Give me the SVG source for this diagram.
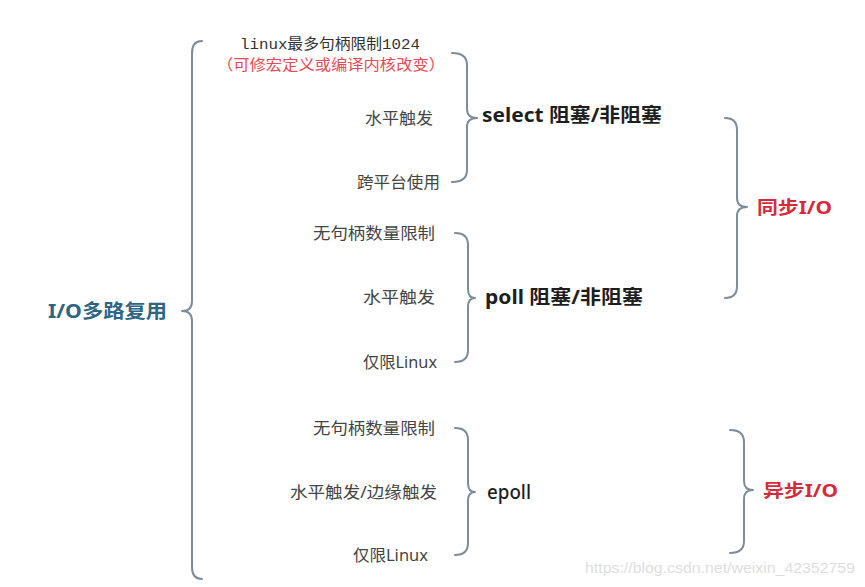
<svg xmlns="http://www.w3.org/2000/svg" width="865" height="587" viewBox="0 0 865 587">
<style>
.brace{fill:none;stroke:#7d8c99;stroke-width:2;stroke-linecap:round;stroke-linejoin:round}
text{font-family:"Noto Sans","Noto Sans CJK SC",sans-serif}
.leaf{fill:#444;font-size:16px;text-anchor:end}
.mono{font-family:"Liberation Mono","Noto Sans CJK SC",monospace;fill:#333;font-size:15px}
.note{fill:#e84a55;font-size:15px}
.mid{fill:#1e1e1e;font-size:19px;font-weight:bold}
.root{fill:#2e6584;font-size:19px;font-weight:bold}
.res{fill:#d62a3c;font-size:18px;font-weight:bold}
.wm{fill:#dedede;font-size:15px;font-family:"Liberation Sans",sans-serif}
</style>
<rect width="865" height="587" fill="#ffffff"/>
<g id="connectors">
<path class="brace" d="M202,41 Q192,41 192,53 L192,301 Q192,311 182,311 Q192,311 192,321 L192,567 Q192,579 202,579"/>
<path class="brace" d="M452,53 Q467,53 467,65 L467,109 Q467,118 477,118 Q467,118 467,127 L467,170 Q467,182 452,182"/>
<path class="brace" d="M455,233 Q468,233 468,245 L468,289 Q468,298 475,298 Q468,298 468,307 L468,350 Q468,362 455,362"/>
<path class="brace" d="M455,428 Q468,428 468,440 L468,483 Q468,492 475,492 Q468,492 468,501 L468,543 Q468,555 455,555"/>
<path class="brace" d="M725,118 Q737,118 737,130 L737,198 Q737,207 747,207 Q737,207 737,216 L737,286 Q737,298 725,298"/>
<path class="brace" d="M730,430 Q744,430 744,442 L744,481 Q744,490 753,490 Q744,490 744,499 L744,541 Q744,553 730,553"/>
</g>
<g id="root"><text class="root" x="48" y="318" textLength="119" lengthAdjust="spacingAndGlyphs">I/O多路复用</text></g>
<g id="select-notes">
<text class="mono" x="240" y="49" textLength="180" lengthAdjust="spacingAndGlyphs">linux最多句柄限制1024</text>
<text class="note" x="217" y="70" textLength="228" lengthAdjust="spacingAndGlyphs">（可修宏定义或编译内核改变）</text>
<text class="leaf" x="433" y="124" textLength="68" lengthAdjust="spacingAndGlyphs">水平触发</text>
<text class="leaf" x="440" y="188" textLength="83" lengthAdjust="spacingAndGlyphs">跨平台使用</text>
</g>
<g id="select"><text class="mid" x="482" y="122" textLength="180" lengthAdjust="spacingAndGlyphs">select 阻塞/非阻塞</text></g>
<g id="poll-notes">
<text class="leaf" x="435" y="239" textLength="122" lengthAdjust="spacingAndGlyphs">无句柄数量限制</text>
<text class="leaf" x="435" y="303" textLength="72" lengthAdjust="spacingAndGlyphs">水平触发</text>
<text class="leaf" x="437" y="368" textLength="74" lengthAdjust="spacingAndGlyphs">仅限Linux</text>
</g>
<g id="poll"><text class="mid" x="485" y="304" textLength="158" lengthAdjust="spacingAndGlyphs">poll 阻塞/非阻塞</text></g>
<g id="epoll-notes">
<text class="leaf" x="435" y="434" textLength="122" lengthAdjust="spacingAndGlyphs">无句柄数量限制</text>
<text class="leaf" x="437" y="498" textLength="147" lengthAdjust="spacingAndGlyphs">水平触发/边缘触发</text>
<text class="leaf" x="428" y="561" textLength="75" lengthAdjust="spacingAndGlyphs">仅限Linux</text>
</g>
<g id="epoll"><text x="487" y="499" style="fill:#1e1e1e;font-size:19px;font-weight:500" textLength="44" lengthAdjust="spacingAndGlyphs">epoll</text></g>
<g id="sync"><text class="res" x="757" y="214" textLength="75" lengthAdjust="spacingAndGlyphs">同步I/O</text></g>
<g id="async"><text class="res" x="763" y="497" textLength="75" lengthAdjust="spacingAndGlyphs">异步I/O</text></g>
<text class="wm" x="585" y="573" textLength="270" lengthAdjust="spacingAndGlyphs">https://blog.csdn.net/weixin_42352759</text>
</svg>
